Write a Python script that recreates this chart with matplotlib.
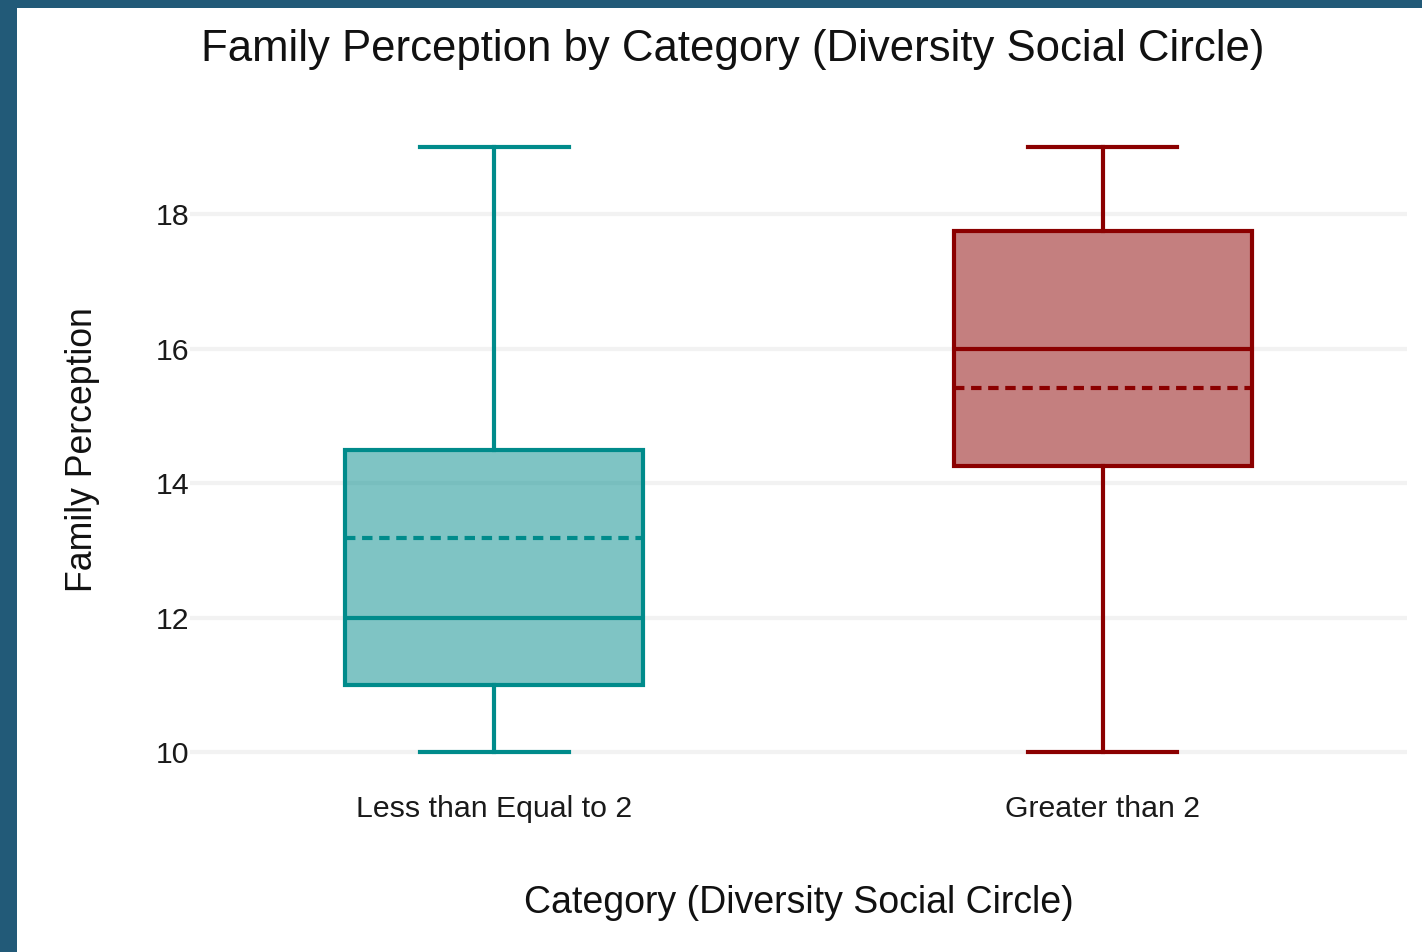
import matplotlib
matplotlib.use("Agg")
from matplotlib import pyplot as plt
from matplotlib.patches import Rectangle
import numpy as np

plt.rcParams['font.family'] = ['Liberation Sans', 'DejaVu Sans']

categories = ['Less than Equal to 2', 'Greater than 2']
lower_whisker = [10, 10]
q1 = [11, 14.25]
median = [12, 16]
q3 = [14.5, 17.75]
upper_whisker = [19, 19]
mean = [13.18, 15.41]
line_colors = ['#008b8b', '#8b0000']

fig = plt.figure(figsize=(14.22, 9.52), dpi=100)
fig.patch.set_facecolor('white')
# dark frame along the top and left edges
frame = '#225a78'
fig.patches.append(Rectangle((0, 1 - 8/952), 1, 8/952, transform=fig.transFigure,
                             facecolor=frame, edgecolor='none'))
fig.patches.append(Rectangle((0, 0), 17/1422, 1, transform=fig.transFigure,
                             facecolor=frame, edgecolor='none'))

ax = fig.add_axes([190/1422, 1 - 786/952, (1407 - 190)/1422, (786 - 113)/952])
ax.set_facecolor('white')

stats = []
for i in range(len(categories)):
    stats.append({'label': categories[i], 'whislo': lower_whisker[i], 'q1': q1[i],
                  'med': median[i], 'q3': q3[i], 'whishi': upper_whisker[i],
                  'mean': mean[i], 'fliers': []})

for i, st in enumerate(stats):
    c = line_colors[i]
    bp = ax.bxp([st], positions=[i], widths=0.49, patch_artist=True, showmeans=True,
                meanline=True, showfliers=False,
                boxprops=dict(facecolor=c, edgecolor=c, linewidth=3),
                whiskerprops=dict(color=c, linewidth=3),
                capprops=dict(color=c, linewidth=3),
                medianprops=dict(color=c, linewidth=3),
                meanprops=dict(color=c, linewidth=3, linestyle=(0, (2.5, 1.6))),
                capwidths=0.245)
    for b in bp['boxes']:
        b.set_facecolor(matplotlib.colors.to_rgba(c, 0.5))
        b.set_edgecolor(c)
        b.set_zorder(3)

ax.set_xlim(-0.5, 1.5)
ax.set_ylim(9.5, 19.5)
ax.set_yticks([10, 12, 14, 16, 18])
ax.set_xticks([0, 1])
ax.set_xticklabels(categories)
ax.yaxis.grid(True, color='#f2f2f2', linewidth=3, zorder=0)
ax.set_axisbelow(True)
for s in ax.spines.values():
    s.set_visible(False)
ax.tick_params(axis='both', length=0, labelsize=21.8, colors='#1a1a1a')
ax.tick_params(axis='y', pad=0.5)
ax.tick_params(axis='x', pad=6.5)

ax.set_xlabel('Category (Diversity Social Circle)', fontsize=27, color='#111111', va='center')
ax.xaxis.set_label_coords(0.5, (786 - 903) / 673)
ax.set_ylabel('Family Perception', fontsize=25.7, color='#111111', va='center', ha='center')
ax.yaxis.set_label_coords((82 - 190) / 1217, 0.5)
fig.text(733/1422, 1 - 50/952, 'Family Perception by Category (Diversity Social Circle)',
         ha='center', va='center', fontsize=31.5, color='#111111')

fig.savefig('out.png', dpi=100, facecolor=fig.get_facecolor())
